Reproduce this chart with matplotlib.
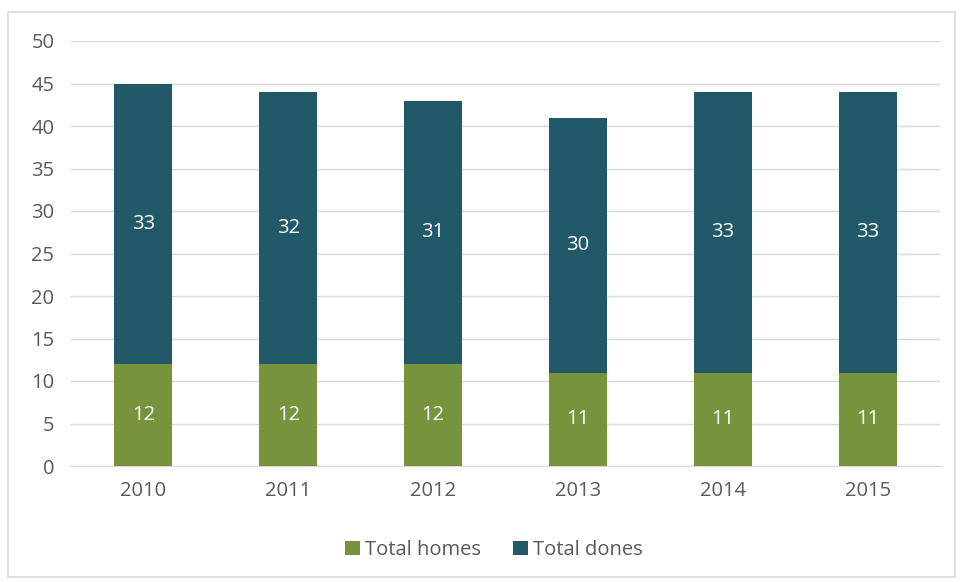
import matplotlib
matplotlib.use("Agg")
import matplotlib.pyplot as plt
from matplotlib.patches import Rectangle

years = ["2010", "2011", "2012", "2013", "2014", "2015"]
total_homes = [12, 12, 12, 11, 11, 11]
total_dones = [33, 32, 31, 30, 33, 33]
y_ticks = [0, 5, 10, 15, 20, 25, 30, 35, 40, 45, 50]

green = "#77933C"
teal = "#215968"
gray_text = "#595959"

plt.rcParams['font.family'] = ['Open Sans', 'DejaVu Sans']

fig = plt.figure(figsize=(9.6, 5.82), dpi=100)
fig.patches.append(Rectangle((8/960, 1-577/582), (955-8)/960, (577-12)/582,
                             transform=fig.transFigure, fill=False,
                             edgecolor="#D9D9D9", linewidth=1.2))
ax = fig.add_axes([71/960, 1-466/582, (940-71)/960, (466-41)/582])

x = list(range(len(years)))
b1 = ax.bar(x, total_homes, width=0.4, color=green, label="Total homes", zorder=3)
b2 = ax.bar(x, total_dones, width=0.4, bottom=total_homes, color=teal, label="Total dones", zorder=3)

for i in x:
    ax.text(i, total_homes[i] / 2, str(total_homes[i]), ha="center", va="center",
            color="white", fontsize=14.5, zorder=4)
    ax.text(i, total_homes[i] + total_dones[i] / 2, str(total_dones[i]), ha="center",
            va="center", color="white", fontsize=14.5, zorder=4)

ax.set_xlim(-0.5, 5.5)
ax.set_ylim(0, 50)
ax.set_yticks(y_ticks)
ax.set_xticks(x)
ax.set_xticklabels(years)
ax.yaxis.grid(True, color="#D9D9D9", linewidth=1, zorder=0)
ax.set_axisbelow(True)
for s in ["top", "right", "left"]:
    ax.spines[s].set_visible(False)
ax.spines["bottom"].set_color("#D9D9D9")
ax.tick_params(axis="both", length=0, colors=gray_text, labelsize=14.5)
ax.tick_params(axis="y", pad=12)
ax.tick_params(axis="x", pad=11)

leg = fig.legend(handles=[b1, b2], loc="center", bbox_to_anchor=(494/960, 1-550/582),
                 ncol=2, frameon=False, fontsize=14.5, handlelength=0.75, handleheight=0.75,
                 handletextpad=0.25, columnspacing=1.6)
for t in leg.get_texts():
    t.set_color(gray_text)

fig.savefig("out.png", dpi=100)
